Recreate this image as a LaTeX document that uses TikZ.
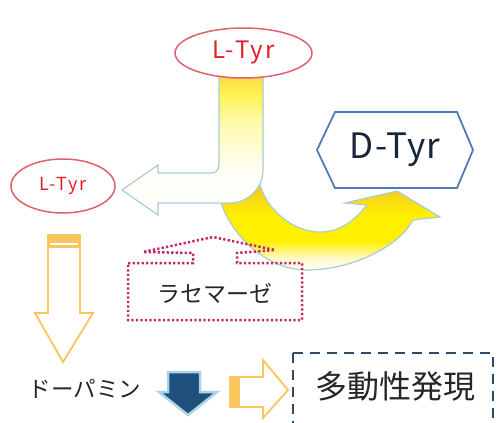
\documentclass[tikz,border=0pt]{standalone}
\usepackage{fontspec}
\setmainfont{Noto Sans CJK JP}
\usetikzlibrary{shapes.geometric}
\definecolor{ellred}{HTML}{E2606E}
\definecolor{txtred}{HTML}{E61E2A}
\definecolor{outl}{HTML}{A9CDD2}
\definecolor{hexblue}{HTML}{4F7CB8}
\definecolor{dtxt}{HTML}{17263A}
\definecolor{dotcol}{HTML}{C02A68}
\definecolor{navyd}{HTML}{2F4A68}
\definecolor{orout}{HTML}{F8C65C}
\definecolor{bluearr}{HTML}{1F4F7D}
\definecolor{glow}{HTML}{AAD4E6}
\definecolor{jw}{HTML}{FFFEF2}
\definecolor{jpale}{HTML}{FFF9A8}
\definecolor{jyel}{HTML}{FFF24A}
\definecolor{jora}{HTML}{FCD048}
\definecolor{cpale}{HTML}{FFF9C8}
\definecolor{cyel}{HTML}{FFF000}
\definecolor{cora}{HTML}{F6C42C}
\pgfdeclareverticalshading{jshade}{100bp}{color(0bp)=(white); color(25bp)=(white); color(42bp)=(jw); color(58bp)=(jpale); color(68bp)=(jyel); color(75bp)=(jora); color(100bp)=(jora)}
\pgfdeclareverticalshading{cshade}{100bp}{color(0bp)=(white); color(25bp)=(white); color(32bp)=(cpale); color(42bp)=(cyel); color(58bp)=(cyel); color(75bp)=(cora); color(100bp)=(cora)}
\tikzset{
  redell/.style={ellipse, draw=ellred, line width=1.5pt, fill=white, inner sep=0pt, text=txtred},
  hollow/.style={draw=orout, line width=1.8pt, fill=white, line join=miter},
  jtext/.style={text=black!85, inner sep=0pt},
}
\begin{document}
\begin{tikzpicture}[x=1pt,y=-1pt]
\clip (0,0) rectangle (498,423);
% curved yellow arrow
\shadedraw[shading=cshade, draw=outl, line width=1.2pt]
  (220,200) .. controls (232,238) and (268,270) .. (307,270)
  .. controls (350,270) and (398,248) .. (413,220)
  -- (440,217) -- (397,191) -- (345,203) -- (367,205)
  .. controls (350,226) and (335,232) .. (320,232)
  .. controls (295,232) and (268,212) .. (260,185) -- cycle;
% J arrow
\shadedraw[shading=jshade, draw=outl, line width=1.2pt]
  (219,72) -- (219,163) .. controls (219,169) and (217,173) .. (211,173)
  -- (158,173) -- (158,165) -- (122,190) -- (158,215) -- (158,203)
  -- (230,203) .. controls (248,203) and (263,188) .. (263,170)
  -- (263,72) -- cycle;
% top ellipse
\node[redell, minimum width=137pt, minimum height=50pt, font=\fontsize{24}{24}\selectfont\addfontfeature{LetterSpace=9}] (ltyrtop) at (243.5,53) {L-Tyr};
% small ellipse
\node[redell, minimum width=104pt, minimum height=54pt, font=\fontsize{18}{18}\selectfont\addfontfeature{LetterSpace=9}] (ltyrsmall) at (63,186) {L-Tyr};
% hexagon
\draw[draw=hexblue, line width=1.8pt, fill=white, line join=miter]
  (317,150) -- (335,112) -- (457,112) -- (473,150) -- (457,188) -- (335,188) -- cycle;
\node[text=dtxt, inner sep=0pt, font=\fontsize{35}{35}\selectfont\addfontfeature{LetterSpace=3}] (dtyr) at (395,150) {D-Tyr};
% dotted callout
\draw[dotcol, line width=2.5pt, dash pattern=on 2.3pt off 2.2pt, line join=miter]
  (128,263) -- (193,263) -- (193,253) -- (143,252) -- (213,237) -- (275,250)
  -- (237,253) -- (237,263) -- (302,263) -- (302,320) -- (128,320) -- cycle;
\node[jtext, font=\fontsize{23}{23}\selectfont] (rac) at (215,293) {ラセマーゼ};
% left hollow down arrow
\draw[hollow] (48,235) -- (80,235) -- (80,313) -- (93,313) -- (63,362) -- (35,313) -- (48,313) -- cycle;
\fill[orout] (48,235) rectangle (80,248);
\draw[white, line width=1.2pt] (50,244) -- (78,244);
% dopamine
\node[jtext, font=\fontsize{22.5}{22.5}\selectfont] (dopa) at (85,389) {ドーパミン};
% blue down arrow
\draw[draw=glow, line width=2.5pt, fill=bluearr, line join=miter]
  (168,372) -- (200,372) -- (200,392) -- (217,392) -- (188,415) -- (159,392) -- (168,392) -- cycle;
% right hollow arrow
\draw[hollow] (230,377) -- (263,377) -- (263,360) -- (288,390) -- (263,418) -- (263,407) -- (230,407) -- cycle;
\fill[orout] (230,377) rectangle (240,407);
% dashed box
\draw[navyd, line width=1.8pt, dash pattern=on 10pt off 7pt] (293,353) -- (493,353) -- (493,440);
\draw[navyd, line width=1.8pt, dash pattern=on 10pt off 7pt] (293,353) -- (293,440);
\node[jtext, font=\fontsize{32}{32}\selectfont] (hyper) at (395,386) {多動性発現};
\end{tikzpicture}
\end{document}
